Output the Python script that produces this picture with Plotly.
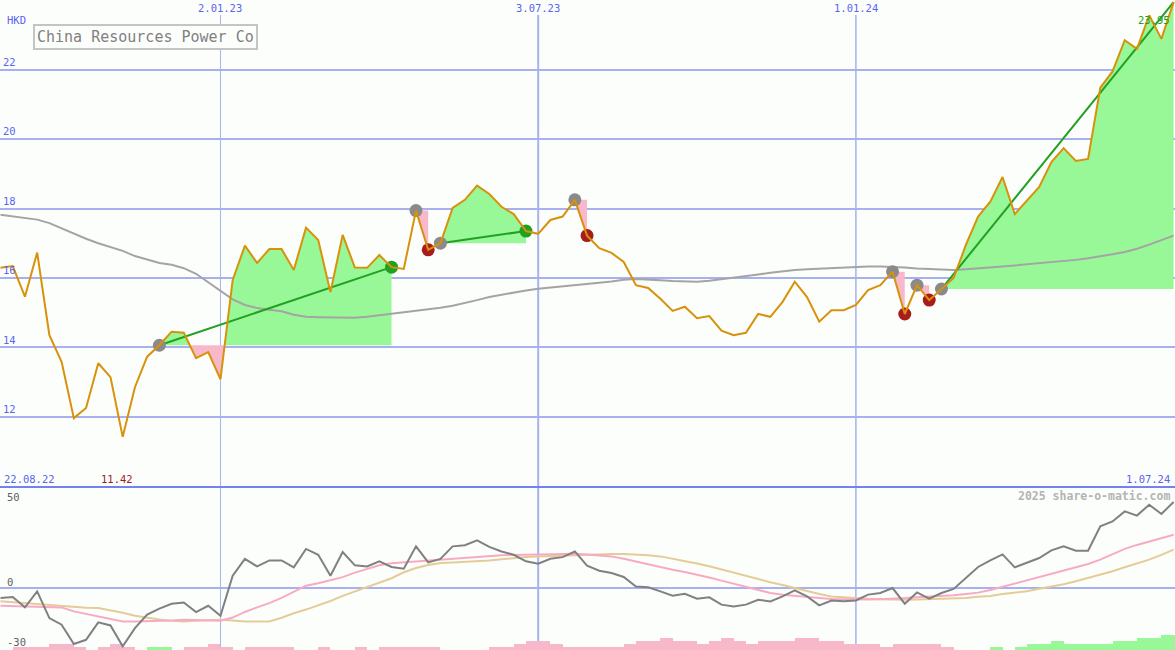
import pandas as pd
import plotly.graph_objects as go

# ---------------- data ----------------
dates = pd.date_range("2022-08-29", periods=97, freq="7D")

price = [16.29, 16.34, 15.46, 16.73, 14.35, 13.58, 11.96, 12.25, 13.54, 13.14,
         11.42, 12.85, 13.73, 14.06, 14.45, 14.42, 13.69, 13.86, 13.08, 15.94,
         16.93, 16.43, 16.83, 16.83, 16.23, 17.45, 17.09, 15.59, 17.24, 16.30,
         16.29, 16.66, 16.31, 16.26, 17.94, 16.81, 17.00, 18.02, 18.25, 18.66,
         18.42, 18.05, 17.84, 17.35, 17.27, 17.67, 17.77, 18.25, 17.22, 16.86,
         16.72, 16.46, 15.79, 15.71, 15.40, 15.05, 15.17, 14.84, 14.90, 14.48,
         14.35, 14.42, 14.96, 14.88, 15.31, 15.89, 15.45, 14.74, 15.07, 15.07,
         15.22, 15.65, 15.79, 16.18, 14.96, 15.79, 15.36, 15.68, 16.00, 16.95,
         17.77, 18.20, 18.91, 17.84, 18.23, 18.62, 19.34, 19.74, 19.37, 19.43,
         21.48, 21.95, 22.85, 22.60, 23.57, 22.89, 23.95]

ma = [17.82, 17.78, 17.73, 17.68, 17.58, 17.43, 17.27, 17.13, 17.00, 16.90,
      16.78, 16.63, 16.52, 16.43, 16.38, 16.28, 16.12, 15.88, 15.62, 15.38,
      15.22, 15.13, 15.08, 15.04, 14.94, 14.88, 14.87, 14.86, 14.85, 14.85,
      14.88, 14.92, 14.96, 15.00, 15.05, 15.10, 15.14, 15.20, 15.27, 15.36,
      15.45, 15.52, 15.58, 15.64, 15.69, 15.72, 15.75, 15.78, 15.82, 15.86,
      15.90, 15.95, 15.97, 15.96, 15.93, 15.91, 15.90, 15.89, 15.92, 15.96,
      16.00, 16.05, 16.10, 16.15, 16.20, 16.23, 16.25, 16.27, 16.28, 16.30,
      16.32, 16.33, 16.33, 16.32, 16.30, 16.27, 16.25, 16.23, 16.23, 16.25,
      16.27, 16.30, 16.33, 16.36, 16.39, 16.41, 16.44, 16.48, 16.52, 16.57,
      16.62, 16.68, 16.75, 16.84, 16.96, 17.08, 17.22]

osc = [-5.7, -5.1, -10.8, -2.0, -16.7, -20.3, -30.9, -28.6, -19.0, -20.7,
       -32.2, -22.2, -14.8, -11.5, -8.8, -8.1, -13.4, -9.9, -15.4, 6.6,
       15.8, 11.7, 15.0, 15.0, 11.2, 21.3, 18.1, 6.6, 19.6, 12.3,
       11.7, 14.5, 11.4, 10.4, 22.7, 13.9, 15.8, 22.7, 23.3, 26.0,
       22.4, 19.9, 18.1, 14.5, 13.2, 15.9, 16.8, 19.9, 12.1, 9.3,
       8.1, 5.9, 0.7, 0.2, -2.0, -4.4, -3.3, -6.0, -5.3, -9.3,
       -10.3, -9.3, -6.6, -7.5, -4.8, -1.5, -4.8, -9.7, -7.0, -7.5,
       -7.0, -3.8, -2.9, -0.2, -8.8, -2.6, -6.0, -2.9, -0.7, 5.3,
       11.4, 15.0, 18.3, 11.2, 13.6, 16.3, 20.5, 22.7, 20.3, 20.3,
       33.7, 36.4, 41.9, 39.6, 45.6, 40.5, 47.1]

osc_fast = [-9.9, -10.0, -10.2, -10.4, -10.6, -10.8, -13.0, -14.3, -15.6, -17.0,
            -18.5, -18.5, -18.4, -18.2, -18.0, -17.6, -17.8, -18.0, -18.1, -16.4,
            -13.3, -10.8, -8.5, -5.6, -2.4, 1.1, 2.5, 4.0, 5.8, 8.3,
            10.5, 12.3, 13.5, 14.0, 14.5, 15.0, 15.4, 15.9, 16.3, 16.8,
            17.3, 17.8, 18.0, 18.2, 18.3, 18.5, 18.6, 18.7, 18.3, 17.7,
            17.2, 15.9, 14.3, 12.8, 11.4, 9.9, 8.6, 7.2, 5.6, 3.9,
            2.2, 0.2, -1.4, -2.9, -3.9, -4.6, -5.1, -5.7, -6.2, -6.4,
            -6.6, -6.5, -6.3, -6.1, -5.7, -5.2, -4.9, -4.6, -4.2, -3.4,
            -2.7, -1.3, 0.5, 2.3, 3.8, 5.8, 7.5, 9.1, 10.9, 13.0,
            15.4, 18.2, 21.3, 23.5, 25.3, 27.2, 29.1]

osc_slow = [-7.5, -8.0, -8.6, -9.3, -9.8, -10.3, -10.6, -11.0, -11.2, -12.3,
            -13.8, -15.4, -16.5, -17.4, -18.2, -18.5, -18.2, -17.8, -17.6, -18.0,
            -18.5, -18.5, -18.5, -16.5, -14.0, -12.0, -9.8, -7.3, -4.5, -2.0,
            0.3, 2.9, 5.2, 8.5, 10.8, 12.5, 13.6, 13.9, 14.2, 14.5,
            15.0, 15.6, 16.3, 16.8, 17.1, 17.4, 17.6, 17.9, 18.2, 18.4,
            18.5, 18.5, 18.3, 17.8, 17.2, 16.0, 14.6, 13.3, 11.8, 10.0,
            8.1, 6.2, 4.5, 3.0, 1.5, -0.3, -2.0, -3.5, -4.8, -5.3,
            -5.7, -6.0, -6.3, -6.6, -6.6, -6.5, -6.3, -6.2, -6.0, -5.6,
            -5.0, -4.5, -3.5, -2.8, -1.9, -0.6, 0.5, 1.9, 3.6, 5.3,
            7.0, 9.0, 11.2, 13.2, 15.4, 18.0, 20.9]

hist = [0, -1.6, -1.6, -1.6, -3.3, -3.3, -1.6, 0, -1.6, -3.3,
        -1.6, 0, 1.6, 1.6, 0, -1.6, -1.6, -3.3, -1.6, 0,
        -1.6, -1.6, -1.6, -1.6, 0, 0, -1.6, 0, 0, -1.6,
        0, -1.6, -1.6, -1.6, -1.6, -1.6, 0, 0, 0, 0,
        -1.6, -1.6, -3.3, -4.9, -4.9, -3.3, -1.6, -1.6, -1.6, -1.6,
        -1.6, -3.3, -4.9, -4.9, -6.6, -4.9, -4.9, -3.3, -4.9, -6.6,
        -4.9, -3.3, -4.9, -4.9, -4.9, -6.6, -6.6, -4.9, -4.9, -3.3,
        -3.3, -3.3, -1.6, -3.3, -3.3, -3.3, -3.3, -1.6, 0, 0,
        0, 1.6, 0, 1.6, 3.3, 3.3, 4.9, 3.3, 3.3, 3.3,
        3.3, 4.9, 4.9, 6.6, 6.6, 8.2, 8.2]

sig_start = [13, 34, 36, 47, 73, 75, 77]
sig_end = [32, 35, 43, 48, 74, 76, 96]
sig_exit = ["target", "stop", "target", "stop", "stop", "stop", "open"]

vline_dates = ["2023-01-02", "2023-07-03", "2024-01-01"]
vline_labels = ["2.01.23", "3.07.23", "1.01.24"]
vline_widths = [1, 2, 1.5]
price_ticks = [12, 14, 16, 18, 20, 22]
osc_ticks = [50, 0, -30]
osc_tick_shift = [0, 6, 0]
title = "China Resources Power Co"
currency = "HKD"
start_label = "22.08.22"
end_label = "1.07.24"
credit = "2025 share-o-matic.com"

# ---------------- styling ----------------
W, H = 1175, 650
BG = "#fcfefc"
FONT = "DejaVu Sans Mono"
BLUE_TXT = "#5a64f0"
GRID = "#a8b0f0"
GREEN_FILL = "#98f898"
PINK_FILL = "#f8b8cc"
PRICE_C = "#d8920a"
SPLIT = 487  # px row of the panel separator


def px(x):
    return x / W


def py(y):
    return 1 - y / H


top_dom = [py(SPLIT), 1]
bot_dom = [0, py(SPLIT)]

fig = go.Figure()


def clipped(xs, ys, base, above):
    ox, oy = [], []
    for i in range(len(xs)):
        y = ys[i]
        if i > 0:
            y0 = ys[i - 1]
            if (y0 - base) * (y - base) < 0:
                f = (base - y0) / (y - y0)
                ox.append(xs[i - 1] + (xs[i] - xs[i - 1]) * f)
                oy.append(base)
        ox.append(xs[i])
        oy.append(max(y, base) if above else min(y, base))
    return ox + [ox[-1], ox[0], ox[0]], oy + [base, base, oy[0]]


# signal fills
for s, e in zip(sig_start, sig_end):
    base = price[s]
    xs = list(dates[s:e + 1])
    ys = price[s:e + 1]
    for above, col in ((True, GREEN_FILL), (False, PINK_FILL)):
        if any((y > base) if above else (y < base) for y in ys):
            fx, fy = clipped(xs, ys, base, above)
            fig.add_trace(go.Scatter(x=fx, y=fy, mode="lines", fill="toself",
                                     fillcolor=col, line=dict(width=0),
                                     hoverinfo="skip", showlegend=False,
                                     xaxis="x", yaxis="y"))

# moving average
fig.add_trace(go.Scatter(x=dates, y=ma, mode="lines",
                         line=dict(color="#a4a4a4", width=2),
                         showlegend=False, xaxis="x", yaxis="y"))

# trend lines for target / open signals
for s, e, kind in zip(sig_start, sig_end, sig_exit):
    if kind in ("target", "open"):
        fig.add_trace(go.Scatter(x=[dates[s], dates[e]], y=[price[s], price[e]],
                                 mode="lines", line=dict(color="#22a022", width=2),
                                 showlegend=False, xaxis="x", yaxis="y"))

# markers
mx, my, mc = [], [], []
for s, e, kind in zip(sig_start, sig_end, sig_exit):
    mx.append(dates[s]); my.append(price[s]); mc.append("#8a8a8a")
    if kind == "target":
        mx.append(dates[e]); my.append(price[e]); mc.append("#22a022")
    elif kind == "stop":
        mx.append(dates[e]); my.append(price[e]); mc.append("#a81c1c")
fig.add_trace(go.Scatter(x=mx, y=my, mode="markers",
                         marker=dict(color=mc, size=13, line=dict(width=0)),
                         showlegend=False, xaxis="x", yaxis="y"))

# price line
fig.add_trace(go.Scatter(x=dates, y=price, mode="lines",
                         line=dict(color=PRICE_C, width=2),
                         showlegend=False, xaxis="x", yaxis="y"))

# ---------------- lower panel ----------------
OSC_LO, OSC_HI = -34.2, 55.3
fig.add_trace(go.Bar(x=dates, y=[abs(v) for v in hist], base=OSC_LO,
                     marker=dict(color=["#98f898" if v > 0 else "#f8b8cc" for v in hist],
                                 line=dict(width=0)),
                     width=7 * 86400000, offset=0,
                     showlegend=False, xaxis="x2", yaxis="y2"))
fig.add_trace(go.Scatter(x=dates, y=osc_slow, mode="lines",
                         line=dict(color="#e4cc98", width=2),
                         showlegend=False, xaxis="x2", yaxis="y2"))
fig.add_trace(go.Scatter(x=dates, y=osc_fast, mode="lines",
                         line=dict(color="#f8aac4", width=2),
                         showlegend=False, xaxis="x2", yaxis="y2"))
fig.add_trace(go.Scatter(x=dates, y=osc, mode="lines",
                         line=dict(color="#808080", width=2),
                         showlegend=False, xaxis="x2", yaxis="y2"))

xr = ["2022-08-28 17:00", "2024-07-01 19:00"]

shapes = []
for d, w in zip(vline_dates, vline_widths):
    shapes.append(dict(type="line", xref="x", yref="paper", x0=d, x1=d,
                       y0=0, y1=py(15), line=dict(color="#a8b2ee", width=w),
                       layer="below"))
shapes.append(dict(type="line", xref="paper", yref="paper", x0=0, x1=1,
                   y0=py(SPLIT), y1=py(SPLIT),
                   line=dict(color="#7482ee", width=2), layer="above"))

ann = []
for d, lab in zip(vline_dates, vline_labels):
    ann.append(dict(x=d, y=py(8), xref="x", yref="paper", text=lab,
                    showarrow=False, xanchor="center", yanchor="middle",
                    font=dict(family=FONT, size=10.5, color=BLUE_TXT)))
ann.append(dict(x=px(5), y=py(20), xref="paper", yref="paper", text=currency,
                showarrow=False, xanchor="left", yanchor="middle",
                font=dict(family=FONT, size=10.5, color=BLUE_TXT)))
ann.append(dict(x=px(33), y=py(24), xref="paper", yref="paper", text=title,
                showarrow=False, xanchor="left", yanchor="top",
                bordercolor="#c4c4c4", borderwidth=2, borderpad=2, bgcolor=BG,
                font=dict(family=FONT, size=15, color="#808080")))
ann.append(dict(x=px(2), y=py(479), xref="paper", yref="paper", text=start_label,
                showarrow=False, xanchor="left", yanchor="middle",
                font=dict(family=FONT, size=10.5, color=BLUE_TXT)))
imin = price.index(min(price))
ann.append(dict(x=dates[imin], y=py(479), xref="x", yref="paper",
                text=f"{min(price):.2f}", showarrow=False, xanchor="center",
                yanchor="middle", xshift=-6,
                font=dict(family=FONT, size=10.5, color="#a01c1c")))
ann.append(dict(x=px(1172), y=py(479), xref="paper", yref="paper", text=end_label,
                showarrow=False, xanchor="right", yanchor="middle",
                font=dict(family=FONT, size=10.5, color=BLUE_TXT)))
ann.append(dict(x=dates[-1], y=py(20), xref="x", yref="paper",
                text=f"{price[-1]:.2f}", showarrow=False, xanchor="right",
                yanchor="middle", xshift=-2,
                font=dict(family=FONT, size=10.5, color="#22a022")))
ann.append(dict(x=px(1172), y=py(496), xref="paper", yref="paper", text=f"<b>{credit}</b>",
                showarrow=False, xanchor="right", yanchor="middle",
                font=dict(family=FONT, size=11.5, color="#b4b4b4")))
for v, sh in zip(osc_ticks, osc_tick_shift):
    ann.append(dict(x=px(5), y=v, xref="paper", yref="y2", text=str(v),
                    showarrow=False, xanchor="left", yanchor="middle", yshift=sh,
                    font=dict(family=FONT, size=10.5, color="#606060")))

fig.update_layout(
    width=W, height=H, margin=dict(l=0, r=0, t=0, b=0),
    paper_bgcolor=BG, plot_bgcolor=BG, showlegend=False, bargap=0,
    xaxis=dict(type="date", range=xr, domain=[0, 1], anchor="y",
               showgrid=False, zeroline=False, showticklabels=False, ticks=""),
    yaxis=dict(domain=top_dom, range=[9.974, 24.01], anchor="x",
               tickvals=price_ticks, ticktext=[str(t) for t in price_ticks],
               ticklabelposition="inside top", ticks="",
               tickfont=dict(family=FONT, size=10.5, color=BLUE_TXT),
               showgrid=True, gridcolor=GRID, gridwidth=2, zeroline=False),
    xaxis2=dict(type="date", range=xr, domain=[0, 1], anchor="y2", matches="x",
                showgrid=False, zeroline=False, showticklabels=False, ticks=""),
    yaxis2=dict(domain=bot_dom, range=[OSC_LO, OSC_HI], anchor="x2",
                showgrid=False, showticklabels=False, ticks="",
                zeroline=True, zerolinecolor=GRID, zerolinewidth=2),
    shapes=shapes, annotations=ann,
)

fig.write_html("out.html", config={"displayModeBar": False},
               post_script="document.body.style.margin='0';document.body.style.overflow='hidden';")
